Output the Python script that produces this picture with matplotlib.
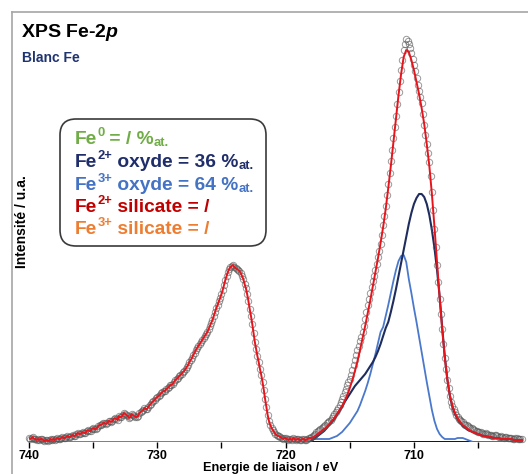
import numpy as np
import matplotlib
matplotlib.use('Agg')
import matplotlib.pyplot as plt
from matplotlib.patches import FancyBboxPatch
from matplotlib.lines import Line2D

plt.rcParams['font.family'] = 'Liberation Sans'
plt.rcParams['font.weight'] = 'bold'
plt.rcParams['mathtext.fontset'] = 'custom'
plt.rcParams['mathtext.rm'] = 'Liberation Sans:bold'
plt.rcParams['mathtext.it'] = 'Liberation Sans:bold:italic'

# measured spectrum, 740.0 -> 701.6 eV, step 0.1 eV (one row = 1 eV)
intensity = [
    4, 3, 4, 5, 3, 3, 2, 3, 2, 3,
    3, 2, 1, 2, 2, 1, 2, 3, 2, 3,
    2, 3, 4, 3, 3, 4, 5, 4, 4, 5,
    6, 5, 5, 6, 7, 6, 6, 8, 9, 8,
    8, 9, 10, 9, 9, 11, 12, 11, 11, 13,
    14, 13, 13, 14, 16, 17, 17, 18, 19, 19,
    18, 19, 21, 21, 20, 21, 23, 24, 23, 22,
    26, 25, 25, 27, 29, 28, 27, 26, 24, 25,
    28, 27, 26, 25, 25, 26, 29, 30, 31, 32,
    34, 33, 33, 35, 37, 38, 40, 41, 42, 44,
    45, 46, 47, 49, 50, 51, 51, 53, 54, 55,
    57, 57, 58, 60, 62, 63, 64, 66, 67, 68,
    70, 71, 73, 75, 77, 80, 82, 84, 87, 89,
    92, 94, 96, 98, 100, 102, 104, 106, 108, 110,
    113, 116, 119, 122, 126, 130, 134, 137, 141, 144,
    148, 152, 157, 162, 166, 170, 173, 175, 176, 177,
    175, 174, 173, 172, 171, 169, 166, 163, 158, 154,
    148, 141, 133, 126, 118, 109, 100, 93, 86, 80,
    73, 67, 60, 52, 43, 35, 27, 21, 17, 14,
    12, 10, 8, 7, 6, 6, 5, 4, 3, 4,
    4, 3, 2, 3, 3, 2, 4, 3, 2, 3,
    3, 2, 2, 3, 3, 2, 2, 3, 4, 4,
    5, 6, 7, 8, 10, 11, 12, 13, 14, 15,
    16, 17, 19, 20, 21, 22, 24, 26, 28, 30,
    32, 34, 37, 40, 43, 46, 50, 53, 57, 60,
    63, 67, 72, 77, 82, 87, 92, 96, 101, 105,
    110, 116, 123, 130, 137, 143, 149, 155, 161, 166,
    172, 178, 185, 191, 198, 207, 217, 226, 236, 247,
    258, 269, 281, 292, 304, 315, 326, 338, 350, 361,
    372, 382, 392, 398, 403, 401, 398, 394, 389, 383,
    377, 371, 364, 357, 351, 345, 339, 328, 317, 307,
    298, 289, 280, 266, 250, 232, 213, 195, 177, 160,
    143, 128, 113, 98, 84, 73, 62, 54, 46, 40,
    36, 33, 30, 27, 25, 23, 22, 21, 20, 18,
    17, 17, 16, 15, 14, 14, 13, 12, 11, 11,
    10, 10, 10, 9, 8, 8, 9, 8, 7, 7,
    7, 6, 6, 7, 7, 6, 5, 5, 6, 5,
    4, 5, 5, 4, 4, 4, 4, 3, 3, 4,
    4, 3, 3, 3, 3,
]

# fit envelope of the 2p3/2 region, 718.0 -> 701.6 eV, step 0.2 eV
env_2p32 = [
    4, 5, 7, 9, 11, 13, 15, 18, 21, 24,
    28, 32, 36, 41, 47, 54, 62, 71, 81, 92,
    104, 116, 129, 142, 156, 170, 184, 199, 215, 233,
    254, 276, 300, 324, 347, 368, 385, 392, 390, 382,
    372, 360, 348, 334, 318, 298, 276, 248, 215, 180,
    145, 113, 85, 63, 47, 36, 29, 24, 20, 17,
    15, 13, 11, 10, 9, 8, 7, 6, 6, 5,
    5, 4, 4, 4, 3, 3, 3, 3, 3, 2,
    2, 2, 2,
]

fe2_oxyde = [
    1, 3, 5, 7, 9, 11, 14, 17, 20, 23,
    27, 31, 35, 40, 44, 48, 52, 56, 59, 62,
    65, 68, 72, 76, 80, 85, 91, 98, 106, 114,
    120, 130, 141, 153, 166, 179, 192, 205, 218, 229,
    238, 244, 248, 248, 245, 238, 227, 212, 194, 172,
    146, 115, 86, 63, 46, 35, 28, 23, 19, 16,
    14, 12, 11, 10, 9, 8, 7, 6, 6, 5,
    5, 4, 4, 4, 3, 3, 3, 3, 3, 2,
    2, 2, 2,
]

fe3_oxyde = [
    3, 3, 3, 3, 3, 3, 3, 3, 4, 5,
    6, 8, 10, 13, 16, 19, 23, 27, 31, 37,
    44, 51, 59, 68, 78, 88, 99, 110, 115, 126,
    137, 149, 161, 172, 181, 186, 187, 180, 163, 149,
    134, 120, 105, 90, 75, 60, 46, 32, 21, 13,
    8, 5, 3, 3, 3, 3, 3, 4, 4, 4,
    3, 2, 1, 0, 0, 0, 0, 0, 0, 0,
    0, 0, 0, 0, 0, 0, 0, 0, 0, 0,
    0, 0, 0,
]

bg_energy = [740.0, 718.0]
bg_level = [0, 0]

energy = 740.0 - 0.1 * np.arange(len(intensity))
k = int(round((740.0 - 718.0) / 0.1))
energy_32 = 718.0 - 0.2 * np.arange(len(env_2p32))
envelope = list(intensity[:k]) + env_2p32
energy_env = np.concatenate([energy[:k], energy_32])

# legend lines: (text, kind) pieces, kind n=normal, sup, sub
legend_lines = [
    ([('Fe', 'n'), ('0', 'sup'), (' = / %', 'n'), ('at.', 'sub')], '#70ad47'),
    ([('Fe', 'n'), ('2+', 'sup'), (' oxyde = 36 %', 'n'), ('at.', 'sub')], '#1f2d6b'),
    ([('Fe', 'n'), ('3+', 'sup'), (' oxyde = 64 %', 'n'), ('at.', 'sub')], '#4472c4'),
    ([('Fe', 'n'), ('2+', 'sup'), (' silicate = /', 'n')], '#c00000'),
    ([('Fe', 'n'), ('3+', 'sup'), (' silicate = /', 'n')], '#ed7d31'),
]

W, H = 528, 474
fig = plt.figure(figsize=(W / 100, H / 100), dpi=100)
ax = fig.add_axes([29 / W, 32 / H, 494 / W, 422 / H])

ax.plot(bg_energy, bg_level, color='#4a78cc', lw=1.3, zorder=2)
ax.plot(energy_32, np.zeros(len(energy_32)), color='black', lw=1.3, zorder=2)
ax.plot(energy_32, fe3_oxyde, color='#4a78cc', lw=1.3, zorder=3)
ax.plot(energy_32, fe2_oxyde, color='#1f2d5e', lw=1.5, zorder=3)
ax.plot(energy, intensity, 'o', ms=4.6, mfc='none', mec='#555555', mew=0.7,
        alpha=0.6, zorder=4, clip_on=False)
ax.plot(energy_env, envelope, color='#e8141c', lw=1.4, zorder=5)

ax.set_xlim(740, 701.5)
ax.set_ylim(0, 422)
for s in ax.spines.values():
    s.set_visible(False)
ax.set_yticks([])
ax.set_xticks([740, 730, 720, 710])
ax.set_xticks([735, 725, 715, 705], minor=True)
ax.tick_params(axis='x', which='both', direction='out', length=4, width=1,
               color='black', pad=2, labelsize=9)

fig.text(271 / W, 1 - 471 / H, 'Energie de liaison / eV', ha='center',
         va='baseline', fontsize=9.2, fontweight='bold')
fig.text(22 / W, 1 - 222 / H, 'Intensité / u.a.', rotation=90, ha='center',
         va='center', fontsize=10, fontweight='bold')

fig.text(21 / W, 1 - 37 / H, r'XPS Fe-2$\mathit{p}$', fontsize=14,
         fontweight='bold', va='baseline')
fig.text(22 / W, 1 - 62 / H, 'Blanc Fe', fontsize=10, fontweight='bold',
         color='#1f3370', va='baseline')

# frame around panel
fig.add_artist(Line2D([12 / W, 12 / W], [0, 1 - 12 / H], color='#a6a6a6', lw=1.2))
fig.add_artist(Line2D([12 / W, 1], [1 - 12 / H, 1 - 12 / H], color='#a6a6a6', lw=1.2))

box = FancyBboxPatch((0.60, 4.74 - 2.46), 2.06, 1.27,
                     boxstyle='round,pad=0,rounding_size=0.16',
                     transform=fig.dpi_scale_trans, facecolor='white',
                     edgecolor='#3a3a3a', lw=1.2, zorder=10)
fig.add_artist(box)

renderer = fig.canvas.get_renderer()
size = 13.8
baselines = [144, 167, 190, 212, 234]
for (parts, col), yb in zip(legend_lines, baselines):
    x = 75.0
    for txt, kind in parts:
        fs = size if kind == 'n' else size * 0.68
        y = yb
        if kind == 'sup':
            y = yb - 0.42 * size * 1.389
        elif kind == 'sub':
            y = yb + 0.12 * size * 1.389
        t = fig.text(x / W, 1 - y / H, txt, color=col, fontsize=fs,
                     fontweight='bold', va='baseline', zorder=11)
        x += t.get_window_extent(renderer).width

fig.savefig('out.png', dpi=100)
